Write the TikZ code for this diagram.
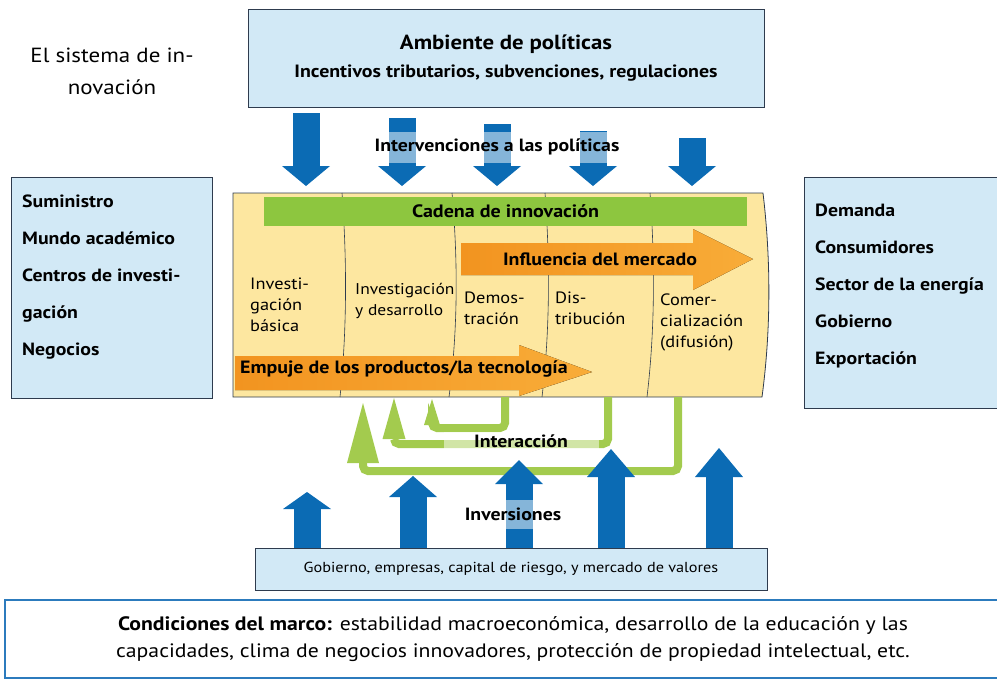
\documentclass[tikz,border=0pt]{standalone}
\usepackage{fontspec}
\setmainfont{PT Sans}[FakeStretch=1.12]
\usetikzlibrary{arrows.meta, positioning}

\definecolor{boxblue}{HTML}{D2E9F6}
\definecolor{boxline}{HTML}{2E3B4E}
\definecolor{arrowblue}{HTML}{0B6BB4}
\definecolor{chainyellow}{HTML}{FDE7A0}
\definecolor{bargreen}{HTML}{8DC63F}
\definecolor{loopgreen}{HTML}{A3CB4E}
\definecolor{pushorange}{HTML}{F29420}
\definecolor{pushlight}{HTML}{F8AC38}
\definecolor{frameblue}{HTML}{2C7BBD}

\tikzstyle{panel} = [rectangle, draw=boxline, fill=boxblue, line width=0.8pt]
\tikzstyle{sidetext} = [anchor=north west, align=left, inner sep=0pt, font=\fontsize{17.7}{37}\selectfont\bfseries]
\tikzstyle{stage} = [anchor=north west, align=left, inner sep=0pt, font=\fontsize{16.4}{21}\selectfont]
\tikzstyle{policyarrow} = [draw=arrowblue, line width=27pt, -{Triangle[length=20pt, width=48pt, line width=0pt]}]
\tikzstyle{investarrow} = [draw=arrowblue, line width=27pt]
\tikzstyle{interact} = [draw=loopgreen, line width=8pt, rounded corners=5pt]
\tikzstyle{bigarrow} = [left color=pushorange, right color=pushlight]
\tikzstyle{veil} = [fill=white, fill opacity=0.5, text opacity=1, inner sep=0pt, font=\fontsize{17.7}{19}\selectfont\bfseries]

\begin{document}
\begin{tikzpicture}[x=1pt, y=-1pt]
\useasboundingbox (0,0) rectangle (997,681);

% Nodes
\node (title) [align=center, font=\fontsize{20.5}{32}\selectfont] at (112,71) {El sistema de in-\\novación};
\node (policy) [panel, minimum width=516, minimum height=98, align=center, font=\fontsize{17.8}{28}\selectfont] at (506,58)
  {{\fontsize{20.4}{22}\selectfont\bfseries Ambiente de políticas}\\\bfseries Incentivos tributarios, subvenciones, regulaciones};
\node (supply) [panel, minimum width=201, minimum height=221] at (111.5,287.5) {};
\node (supplytxt) [sidetext] at (22,195) {Suministro\\Mundo académico\\Centros de investi-\\gación\\Negocios};
\node (demand) [panel, minimum width=210, minimum height=231] at (909,292.5) {};
\node (demandtxt) [sidetext] at (815,204) {Demanda\\Consumidores\\Sector de la energía\\Gobierno\\Exportación};
\node (funds) [panel, minimum width=512, minimum height=42, font=\fontsize{14.5}{16}\selectfont] at (511,569)
  {Gobierno, empresas, capital de riesgo, y mercado de valores};
\node (frame) [draw=frameblue, line width=2pt, minimum width=1016, minimum height=78, align=center, font=\fontsize{19.4}{27}\selectfont] at (513,639)
  {\textbf{Condiciones del marco:} estabilidad macroeconómica, desarrollo de la educación y las\\capacidades, clima de negocios innovadores, protección de propiedad intelectual, etc.};

% Innovation chain
\filldraw[fill=chainyellow, draw=boxline, line width=0.8pt] (233,193) -- (763,193) .. controls (771,260) and (771,330) .. (762,397) -- (233,397) -- cycle;
\foreach \t/\m/\b in {342/347/340, 452/458/449, 545/550/542, 650/655/647}
  \draw[boxline, line width=0.6pt] (\t,193) .. controls (\m,260) and (\m,330) .. (\b,397);
\node (cadena) [fill=bargreen, minimum width=483, minimum height=29, font=\fontsize{17.9}{19}\selectfont\bfseries] at (505.5,211.5) {Cadena de innovación};
\fill[bigarrow] (461,243) -- (693,243) -- (693,229) -- (753,259) -- (693,290) -- (693,275) -- (461,275) -- cycle;
\fill[bigarrow] (235,356) -- (519,356) -- (519,345) -- (592,372) -- (519,396) -- (519,390) -- (235,390) -- cycle;
\node (pull) [font=\fontsize{17.8}{19}\selectfont\bfseries] at (600,259) {Influencia del mercado};
\node (push) [anchor=west, inner sep=0pt, font=\fontsize{17.8}{19}\selectfont\bfseries] at (240,369) {Empuje de los productos/la tecnología};
\node (basic) [stage] at (250,278) {Investi-\\gación\\básica};
\node (rd) [stage, font=\fontsize{15.6}{21}\selectfont] at (355,283) {Investigación\\y desarrollo};
\node (demo) [stage] at (464,292) {Demos-\\tración};
\node (distr) [stage] at (555,292) {Dis-\\tribución};
\node (comm) [stage] at (660,294) {Comer-\\cialización\\(difusión)};

% Arrows
\foreach \x/\top [count=\i] in {306/113, 402/118, 497/124, 593/131, 692/138} {
  \coordinate (pin\i) at (\x,\top);
  \coordinate (pout\i) at (\x,186);
  \draw[policyarrow] (pin\i) -- (pout\i);
}
\node (interv) [veil, minimum height=31] at (497,147) {Intervenciones a las políticas};

\coordinate (loopa) at (505,397);
\coordinate (loopb) at (608,397);
\coordinate (loopc) at (678,397);
\draw[interact, -{Triangle[length=26pt, width=16pt, line width=0pt]}] (loopa) -- ++(0,31) -| (432,399);
\draw[interact, -{Triangle[length=41pt, width=23pt, line width=0pt]}] (loopb) -- ++(0,47) -| (394,398);
\draw[interact, -{Triangle[length=60pt, width=32pt, line width=0pt]}] (loopc) -- ++(0,74) -| (363,403);
\node (interaction) [veil, minimum width=155, minimum height=18] at (521,441) {Interacción};

\foreach \x/\tip/\len [count=\i] in {307/492/17, 413/476/21, 519/460/24, 611/449/28, 719/448/29} {
  \coordinate (vin\i) at (\x,548);
  \coordinate (vout\i) at (\x,\tip);
  \draw[investarrow, -{Triangle[length=\len pt, width=48pt, line width=0pt]}] (vin\i) -- (vout\i);
}
\node (invest) [veil, minimum height=29] at (513,514) {Inversiones};

\end{tikzpicture}
\end{document}
